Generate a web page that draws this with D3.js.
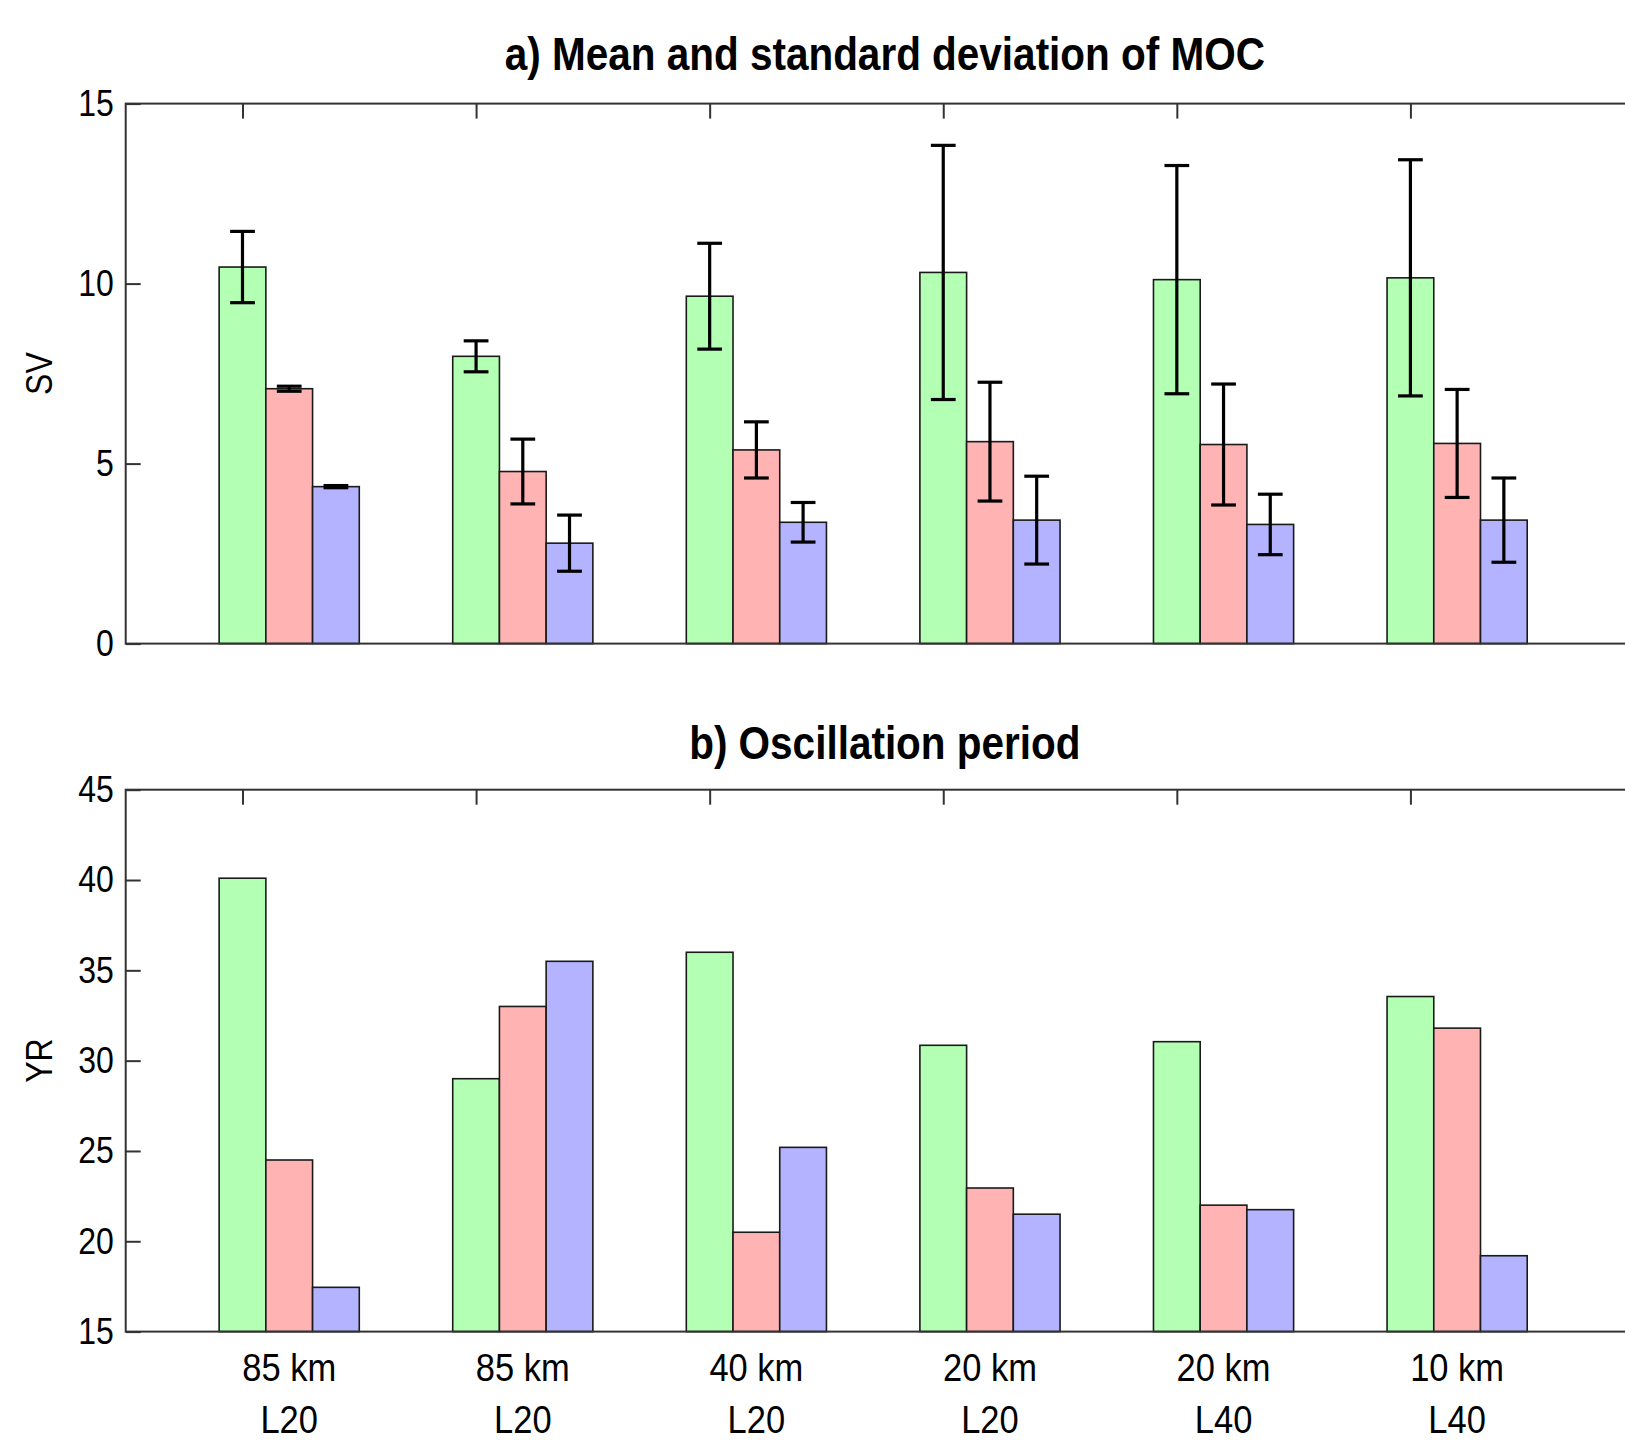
<!DOCTYPE html>
<html>
<head>
<meta charset="utf-8">
<script src="https://cdn.jsdelivr.net/npm/d3@7"></script>
<style>
  html, body { margin: 0; padding: 0; background: #fff; overflow: hidden; }
  svg { display: block; font-family: "Liberation Sans", Arial, Helvetica, sans-serif; }
</style>
</head>
<body>
<div id="chart"></div>
<script>
// Model runs (one group of three bars each)
const resolution = ['85 km', '85 km', '40 km', '20 km', '20 km', '10 km'];
const levels = ['L20', 'L20', 'L20', 'L20', 'L40', 'L40'];

const seriesColors = ['#b3ffb3', '#ffb3b3', '#b3b3ff'];

// a) mean and standard deviation of MOC (Sv)
const mocMeanGreen = [10.46, 7.98, 9.65, 10.31, 10.11, 10.16];
const mocStdGreen  = [0.99, 0.43, 1.47, 3.53, 3.17, 3.28];
const mocMeanRed   = [7.08, 4.78, 5.38, 5.61, 5.53, 5.56];
const mocStdRed    = [0.07, 0.90, 0.78, 1.65, 1.68, 1.50];
const mocMeanBlue  = [4.36, 2.79, 3.37, 3.43, 3.31, 3.43];
const mocStdBlue   = [0.03, 0.78, 0.55, 1.22, 0.84, 1.17];

// b) oscillation period (yr)
const periodGreen = [40.1, 29.0, 36.0, 30.85, 31.05, 33.55];
const periodRed   = [24.5, 33.0, 20.5, 22.95, 22.0, 31.8];
const periodBlue  = [17.45, 35.5, 25.2, 21.5, 21.75, 19.2];

const mocTicks = [0, 5, 10, 15];
const periodTicks = [15, 20, 25, 30, 35, 40, 45];

const width = 1625, height = 1449;
const xLeft = 125.7, xRight = 1644;
const barWidth = 0.2;
const capHalf = 0.053;
const stretch = 1.15; // the original lettering is a bit taller than wide

const svg = d3.select('#chart').append('svg')
  .attr('width', width)
  .attr('height', height);

const x = d3.scaleLinear().domain([0.5, 7]).range([xLeft, xRight]);
const groupIdx = d3.range(1, resolution.length + 1);

function tallText(px, py, size, str, extra) {
  const t = svg.append('text')
    .attr('transform', `translate(${px},${py})${extra || ''} scale(1,${stretch})`)
    .attr('text-anchor', 'middle')
    .attr('font-size', size)
    .text(str);
  return t;
}

function drawPanel(opts) {
  const y = d3.scaleLinear().domain(opts.domain).range([opts.bottom, opts.top]);
  const g = svg.append('g');

  // axes layer below the bars
  g.append('g')
    .attr('transform', `translate(0,${opts.bottom})`)
    .call(d3.axisBottom(x).tickValues(groupIdx).tickSize(-15).tickSizeOuter(0).tickFormat(''))
    .call(a => a.select('.domain').remove())
    .call(a => a.selectAll('line').attr('stroke', '#333').attr('stroke-width', 2));

  const series = opts.series;
  series.forEach((vals, s) => {
    g.selectAll(null)
      .data(vals)
      .enter()
      .append('rect')
      .attr('x', (d, i) => x(i + 1 - barWidth / 2 + s * barWidth))
      .attr('width', x(barWidth) - x(0))
      .attr('y', d => y(d))
      .attr('height', d => opts.bottom - y(d))
      .attr('fill', seriesColors[s])
      .attr('stroke', '#1a1a1a')
      .attr('stroke-width', 1.6);
  });

  // error bars
  if (opts.errors) {
    opts.errors.forEach((errs, s) => {
      errs.forEach((e, i) => {
        const m = series[s][i];
        const cx = i + 1 + s * barWidth;
        const eg = g.append('g').attr('stroke', '#000').attr('stroke-width', 3.2);
        eg.append('line').attr('x1', x(cx)).attr('x2', x(cx)).attr('y1', y(m + e)).attr('y2', y(m - e));
        eg.append('line').attr('x1', x(cx - capHalf)).attr('x2', x(cx + capHalf)).attr('y1', y(m + e)).attr('y2', y(m + e));
        eg.append('line').attr('x1', x(cx - capHalf)).attr('x2', x(cx + capHalf)).attr('y1', y(m - e)).attr('y2', y(m - e));
      });
    });
  }

  // box
  g.append('rect')
    .attr('x', xLeft)
    .attr('y', opts.top)
    .attr('width', xRight - xLeft)
    .attr('height', opts.bottom - opts.top)
    .attr('fill', 'none')
    .attr('stroke', '#333')
    .attr('stroke-width', 2);

  // top ticks
  g.append('g')
    .attr('transform', `translate(0,${opts.top})`)
    .call(d3.axisTop(x).tickValues(groupIdx).tickSize(-15).tickSizeOuter(0).tickFormat(''))
    .call(a => a.select('.domain').remove())
    .call(a => a.selectAll('line').attr('stroke', '#333').attr('stroke-width', 2));

  // y axis
  g.append('g')
    .attr('transform', `translate(${xLeft},0)`)
    .call(d3.axisLeft(y).tickValues(opts.ticks).tickSize(-15).tickSizeOuter(0).tickPadding(12))
    .call(a => a.select('.domain').remove())
    .call(a => a.selectAll('line').attr('stroke', '#333').attr('stroke-width', 2))
    .call(a => a.selectAll('text')
      .attr('font-family', '"Liberation Sans", Arial, sans-serif')
      .attr('font-size', 32)
      .attr('fill', '#000')
      .attr('dy', '0.32em')
      .attr('transform', `scale(1,${stretch})`));

  // right-hand ticks
  g.append('g')
    .attr('transform', `translate(${xRight},0)`)
    .call(d3.axisRight(y).tickValues(opts.ticks).tickSize(-15).tickSizeOuter(0).tickFormat(''))
    .call(a => a.select('.domain').remove())
    .call(a => a.selectAll('line').attr('stroke', '#333').attr('stroke-width', 2));

  // y label
  tallText(52, (opts.top + opts.bottom) / 2, 32, opts.ylabel, ' rotate(-90)');

  // title
  tallText((xLeft + xRight) / 2, opts.titleY, 40.5, opts.title)
    .attr('font-weight', 'bold');

  return y;
}

drawPanel({
  top: 103.6, bottom: 643.6, domain: [0, 15], ticks: mocTicks,
  series: [mocMeanGreen, mocMeanRed, mocMeanBlue],
  errors: [mocStdGreen, mocStdRed, mocStdBlue],
  ylabel: 'SV', title: 'a) Mean and standard deviation of MOC', titleY: 70
});

drawPanel({
  top: 789.7, bottom: 1331.6, domain: [15, 45], ticks: periodTicks,
  series: [periodGreen, periodRed, periodBlue],
  ylabel: 'YR', title: 'b) Oscillation period', titleY: 759
});

// group labels under the lower panel
const labelRows = [resolution, levels];
labelRows.forEach((row, r) => {
  row.forEach((d, i) => {
    tallText(x(i + 1 + barWidth), 1381 + r * 52, 34.5, d);
  });
});
</script>
</body>
</html>
